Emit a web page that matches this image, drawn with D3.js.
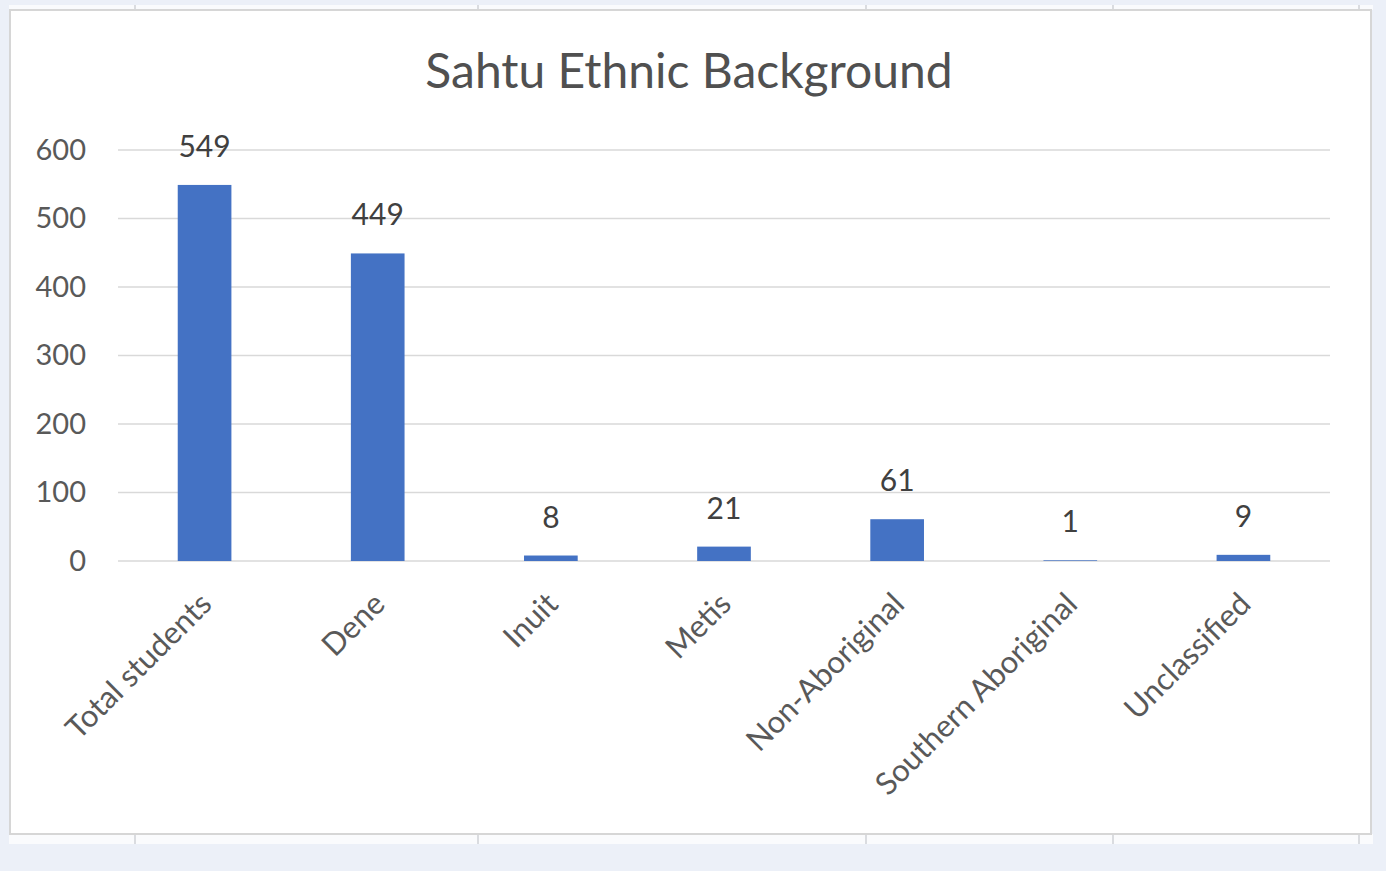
<!DOCTYPE html>
<html>
<head>
<meta charset="utf-8">
<script src="https://cdn.jsdelivr.net/npm/d3@7"></script>
<style>
  body{margin:0;background:#ecf0f8;}
  text{font-family:Lato,"Open Sans",sans-serif;}
</style>
</head>
<body>
<div id="chart"></div>
<script>
var categories = ["Total students","Dene","Inuit","Metis","Non-Aboriginal","Southern Aboriginal","Unclassified"];
var values = [549,449,8,21,61,1,9];
var yTicks = [0,100,200,300,400,500,600];
var title = "Sahtu Ethnic Background";

var width=1386,height=871;
var plot={left:118,right:1330,top:150,bottom:561};

var svg=d3.select("#chart").append("svg")
          .attr("width",width).attr("height",height)
          .style("display","block");

// spreadsheet cell strips behind the chart
svg.append("rect").attr("x",9).attr("y",5).attr("width",1364).attr("height",5).attr("fill","#fafbfd");
svg.append("rect").attr("x",9).attr("y",834).attr("width",1364).attr("height",10).attr("fill","#fafbfd");
[135,478,866,1113,1359].forEach(function(cx){
  svg.append("line").attr("x1",cx).attr("x2",cx).attr("y1",5).attr("y2",10).attr("stroke","#cfd2d6").attr("stroke-width",1.5);
  svg.append("line").attr("x1",cx).attr("x2",cx).attr("y1",834).attr("y2",844).attr("stroke","#cfd2d6").attr("stroke-width",1.5);
});

// chart area
svg.append("rect").attr("x",10).attr("y",10).attr("width",1361).attr("height",824)
   .attr("fill","#fff").attr("stroke","#d6d6d6").attr("stroke-width",2);

svg.append("text").attr("x",689).attr("y",88).attr("text-anchor","middle")
   .attr("font-size",48).attr("fill","#505050").text(title);

var x=d3.scaleBand().domain(categories).range([plot.left,plot.right]).paddingInner(0.69).paddingOuter(0.345);
var y=d3.scaleLinear().domain([0,600]).range([plot.bottom,plot.top]);

// gridlines
svg.append("g").selectAll("line").data(yTicks).enter().append("line")
   .attr("x1",plot.left).attr("x2",plot.right)
   .attr("y1",d=>y(d)).attr("y2",d=>y(d))
   .attr("stroke","#d9d9d9").attr("stroke-width",1.5);

// y axis labels
var yAxis=d3.axisLeft(y).tickValues(yTicks).tickSize(0).tickPadding(0);
var gy=svg.append("g").attr("transform","translate(86,0)").call(yAxis);
gy.select(".domain").remove();
gy.selectAll("text").attr("font-size",29).attr("fill","#595959").style("font-family","Lato,'Open Sans',sans-serif");

// bars
svg.append("g").selectAll("rect").data(values).enter().append("rect")
   .attr("x",(d,i)=>x(categories[i]))
   .attr("width",x.bandwidth())
   .attr("y",d=>y(d))
   .attr("height",d=>y(0)-y(d))
   .attr("fill","#4472c4");

// value labels
svg.append("g").selectAll("text").data(values).enter().append("text")
   .attr("x",(d,i)=>x(categories[i])+x.bandwidth()/2)
   .attr("y",d=>y(d)-28)
   .attr("text-anchor","middle")
   .attr("font-size",30).attr("fill","#404040")
   .text(d=>d);

// category labels
var xAxis=d3.axisBottom(x).tickSize(0).tickPadding(0);
var gx=svg.append("g").attr("transform","translate(0,"+plot.bottom+")").call(xAxis);
gx.select(".domain").remove();
gx.selectAll("text")
  .attr("font-size",31).attr("fill","#595959").style("font-family","Lato,'Open Sans',sans-serif")
  .attr("text-anchor","end").attr("dy",null).attr("y",0)
  .attr("transform","translate(9,45) rotate(-45)");
</script>
</body>
</html>
